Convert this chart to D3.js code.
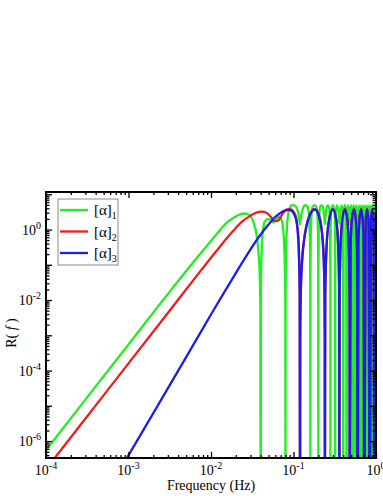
<!DOCTYPE html>
<html><head><meta charset="utf-8">
<script src="https://cdn.jsdelivr.net/npm/d3@7"></script>
<style>html,body{margin:0;padding:0;background:#fff;overflow:hidden}svg{display:block}text{font-family:"Liberation Serif","Times New Roman",Times,serif}</style>
</head><body><svg id="c" width="383" height="496"></svg>
<script>
const seriesLabels = ["1","2","3"];
const xTickExponents = [-4,-3,-2,-1,0];
const yTickExponents = [0,-2,-4,-6];

const green = [
[1e-4,5.5e-7],[3e-4,1.5e-5],[1e-3,5.5e-4],[3e-3,0.0148],[6e-3,0.112],[0.0085,0.3],[0.011,0.62],[0.015,1.45],[0.019,2.2],[0.0225,2.7],[0.0255,2.85],[0.029,2.6],[0.0326,1.65],[0.0355,0.75],[0.0375,0.25],[0.039,0.05],[0.0397,0.004],[0.04,1e-9],
[0.0403,0.02],[0.041,0.2],[0.0425,0.9],[0.045,1.7],[0.049,2.0],[0.053,1.85],[0.057,1.6],[0.062,1.9],[0.067,2.3],[0.072,1.8],[0.076,0.7],[0.0785,0.1],[0.0797,0.008],[0.08,1e-9],
[0.0803,0.02],[0.081,0.2],[0.083,1.0],[0.086,2.6],[0.09,4.0],[0.096,4.9],[0.103,4.8],[0.11,4.0],[0.115,2.8],[0.118,1.8],[0.12,1.4],[0.122,1.8],[0.125,2.8],[0.13,4.0],[0.137,4.8],[0.144,4.8],[0.15,4.0],[0.154,2.6],[0.157,1.0],[0.159,0.2],[0.1597,0.02],[0.16,1e-9],
[0.1605,0.05],[0.162,0.8],[0.165,2.5],[0.17,4.3],[0.18,4.9],[0.19,4.3],[0.195,2.5],[0.198,0.8],[0.1995,0.05],[0.2,1e-9],
[0.2005,0.05],[0.202,0.8],[0.206,2.8],[0.212,4.5],[0.22,4.8],[0.23,3.8],[0.237,2.0],[0.24,1.4],[0.243,2.0],[0.25,3.8],[0.26,4.8],[0.268,4.5],[0.274,2.8],[0.278,0.8],[0.2795,0.05],[0.28,1e-9],
[0.281,0.3],[0.285,3.0],[0.3,4.9],[0.315,3.0],[0.319,0.3],[0.32,1e-9],
[0.321,0.3],[0.326,3.0],[0.335,4.8],[0.35,3.5],[0.36,1.4],[0.37,3.5],[0.385,4.8],[0.394,3.0],[0.399,0.3],[0.4,1e-9],
[0.405,3.0],[0.42,4.9],[0.435,3.0],[0.44,1e-9],
[0.447,3.0],[0.458,4.8],[0.47,3.5],[0.48,1.4],[0.49,3.5],[0.502,4.8],[0.513,3.0],[0.52,1e-9],
[0.527,3.0],[0.54,4.9],[0.553,3.0],[0.56,1e-9],
[0.57,3.0],[0.58,4.8],[0.6,1.4],[0.62,4.8],[0.63,3.0],[0.64,1e-9],
[0.66,4.9],[0.68,1e-9],
[0.7,4.8],[0.72,1.4],[0.74,4.8],[0.76,1e-9],
[0.78,4.9],[0.8,1e-9],
[0.82,4.8],[0.84,1.4],[0.86,4.8],[0.88,1e-9],
[0.9,4.9],[0.92,1e-9],
[0.94,4.8],[0.96,1.4],[0.98,4.8],[1.0,3.5]
];

const red = [
[1e-4,1.6e-7],[3e-4,4.3e-6],[1e-3,1.6e-4],[3e-3,4.3e-3],[7.4e-3,0.065],[0.0117,0.25],[0.0186,0.92],[0.024,1.7],[0.0296,2.4],[0.035,2.95],[0.041,3.2],[0.047,3.0],[0.053,2.3],[0.059,1.75],[0.065,1.75],[0.07,2.3],[0.076,3.1],[0.083,3.7],[0.09,3.78],[0.097,3.5],[0.103,2.9],[0.108,2.1],[0.112,1.15],[0.115,0.55],[0.117,0.14],[0.119,0.015],[0.12,1e-9],
[0.1206,0.0009],[0.1224,0.015],[0.1272,0.135],[0.1344,0.52],[0.144,1.33],[0.156,2.5],[0.168,3.48],[0.18,3.85],[0.192,3.48],[0.204,2.5],[0.216,1.33],[0.2256,0.52],[0.2328,0.135],[0.2376,0.015],[0.2394,0.0009],[0.24,1e-9],
[0.2424,0.015],[0.252,0.36],[0.27,1.92],[0.3,3.85],[0.33,1.92],[0.348,0.36],[0.3576,0.015],[0.36,1e-9],
[0.3624,0.015],[0.372,0.36],[0.39,1.92],[0.42,3.85],[0.45,1.92],[0.468,0.36],[0.4776,0.015],[0.48,1e-9],
[0.492,0.36],[0.51,1.92],[0.54,3.85],[0.57,1.92],[0.588,0.36],[0.6,1e-9],
[0.612,0.36],[0.63,1.92],[0.66,3.85],[0.69,1.92],[0.708,0.36],[0.72,1e-9],
[0.75,1.92],[0.78,3.85],[0.81,1.92],[0.84,1e-9],
[0.87,1.92],[0.9,3.85],[0.93,1.92],[0.96,1e-9],
[0.99,1.92],[1.0,2.9]
];

const blue = [
[9e-4,2.6e-7],[2e-3,6.2e-6],[5e-3,2.4e-4],[0.01,0.0039],[0.015,0.019],[0.02,0.058],[0.03,0.27],[0.04,0.72],[0.05,1.4],[0.06,2.25],[0.07,3.0],[0.08,3.5],[0.088,3.6],[0.095,3.4],[0.1,2.9],[0.105,2.3],[0.11,1.4],[0.114,0.55],[0.117,0.13],[0.119,0.014],[0.12,1e-9],
[0.1206,0.0009],[0.1224,0.0146],[0.1272,0.13],[0.1344,0.5],[0.144,1.28],[0.156,2.4],[0.168,3.35],[0.18,3.7],[0.192,3.35],[0.204,2.4],[0.216,1.28],[0.2256,0.5],[0.2328,0.13],[0.2376,0.0146],[0.2394,0.0009],[0.24,1e-9],
[0.2424,0.0146],[0.252,0.35],[0.27,1.85],[0.3,3.7],[0.33,1.85],[0.348,0.35],[0.3576,0.0146],[0.36,1e-9],
[0.3624,0.0146],[0.372,0.35],[0.39,1.85],[0.42,3.7],[0.45,1.85],[0.468,0.35],[0.4776,0.0146],[0.48,1e-9],
[0.492,0.35],[0.51,1.85],[0.54,3.7],[0.57,1.85],[0.588,0.35],[0.6,1e-9],
[0.612,0.35],[0.63,1.85],[0.66,3.7],[0.69,1.85],[0.708,0.35],[0.72,1e-9],
[0.75,1.85],[0.78,3.7],[0.81,1.85],[0.84,1e-9],
[0.87,1.85],[0.9,3.7],[0.93,1.85],[0.96,1e-9],
[0.99,1.85],[1.0,2.8]
];

const seriesData = [green, red, blue];
const colors = ["#22ee22", "#ee1c1c", "#1c1cee"];
const FONT = "'Liberation Serif','Times New Roman',Times,serif";

const L = 46, R = 376, T = 192, B = 458;
const x = d3.scaleLog().domain([1e-4, 1]).range([L, R]);
const y = d3.scaleLog().domain([Math.pow(10, -6.48), Math.pow(10, 1.064)]).range([B, T]);
const svg = d3.select("#c");
svg.append("rect").attr("width",383).attr("height",496).attr("fill","#fff");
svg.append("defs").append("clipPath").attr("id","clip")
  .append("rect").attr("x",L).attr("y",T).attr("width",R-L).attr("height",B-T);

// curves
const line = d3.line().x(d => x(d[0])).y(d => y(d[1])).curve(d3.curveMonotoneX);
const gPlot = svg.append("g").attr("clip-path","url(#clip)");
seriesData.forEach((s, i) => {
  gPlot.append("path").datum(s).attr("d", line).attr("fill","none")
    .attr("stroke", colors[i]).attr("stroke-width", 2.3).attr("stroke-linejoin","round");
});

// ticks
const xMajor = [], xMinor = [], yMajor = [], yMinor = [];
for (let e = -4; e <= 0; e++) xMajor.push(Math.pow(10, e));
for (let e = -4; e < 0; e++) for (let k = 2; k < 10; k++) xMinor.push(k * Math.pow(10, e));
const yd = y.domain();
for (let e = -7; e <= 1; e++) {
  const v = Math.pow(10, e);
  if (v >= yd[0] && v <= yd[1]) yMajor.push(v);
  for (let k = 2; k < 10; k++) { const m = k * v; if (m > yd[0] && m < yd[1]) yMinor.push(m); }
}
function axis(fn, scale, vals, size, tr) {
  svg.append("g").attr("transform", tr)
    .call(fn(scale).tickValues(vals).tickSize(size).tickFormat(""))
    .call(g => { g.select(".domain").remove(); g.selectAll("line").attr("stroke","#000").attr("stroke-width",1.3); });
}
axis(d3.axisBottom, x, xMajor, -6, `translate(0,${B})`);
axis(d3.axisBottom, x, xMinor, -3, `translate(0,${B})`);
axis(d3.axisTop, x, xMajor, -6, `translate(0,${T})`);
axis(d3.axisTop, x, xMinor, -3, `translate(0,${T})`);
axis(d3.axisLeft, y, yMajor, -6, `translate(${L},0)`);
axis(d3.axisLeft, y, yMinor, -3.5, `translate(${L},0)`);
axis(d3.axisRight, y, yMajor, -6, `translate(${R},0)`);
axis(d3.axisRight, y, yMinor, -3.5, `translate(${R},0)`);

// frame
svg.append("rect").attr("x",L).attr("y",T).attr("width",R-L).attr("height",B-T)
  .attr("fill","none").attr("stroke","#000").attr("stroke-width",2);

// x tick labels
xTickExponents.forEach(e => {
  const t = svg.append("text").attr("x", x(Math.pow(10, e))).attr("y", 475)
    .attr("text-anchor","middle").attr("font-family", FONT).attr("font-size", 14).attr("fill","#000");
  t.append("tspan").text("10");
  t.append("tspan").attr("dy", -6).attr("font-size", 10).text(String(e));
});
// y tick labels
yTickExponents.forEach(e => {
  const t = svg.append("text").attr("x", 41).attr("y", y(Math.pow(10, e)) + 5)
    .attr("text-anchor","end").attr("font-family", FONT).attr("font-size", 14).attr("fill","#000");
  t.append("tspan").text("10");
  t.append("tspan").attr("dy", -6).attr("font-size", 10).text(String(e));
});
// axis titles
svg.append("text").attr("x", (L + R) / 2).attr("y", 490).attr("text-anchor","middle")
  .attr("font-family", FONT).attr("font-size", 14).attr("fill","#000").text("Frequency (Hz)");
const yl = svg.append("text").attr("transform","translate(16,333) rotate(-90)")
  .attr("text-anchor","middle").attr("font-family", FONT).attr("font-size", 14).attr("fill","#000");
yl.append("tspan").text("R( ");
yl.append("tspan").attr("font-style","italic").text("f");
yl.append("tspan").text(" )");

// legend
const lg = svg.append("g");
lg.append("rect").attr("x",58).attr("y",199).attr("width",60).attr("height",66)
  .attr("fill","#fff").attr("stroke","#8a8a8a").attr("stroke-width",1);
seriesLabels.forEach((lab, i) => {
  const yy = 210 + i * 21.5;
  lg.append("line").attr("x1",60).attr("x2",88).attr("y1",yy).attr("y2",yy)
    .attr("stroke", colors[i]).attr("stroke-width", 2.3);
  const t = lg.append("text").attr("x", 94).attr("y", yy + 5).attr("font-family", FONT)
    .attr("font-size", 15).attr("fill","#000");
  t.append("tspan").text("[\u03B1]");
  t.append("tspan").attr("dy", 4).attr("font-size", 10).text(lab);
});
</script>
</body></html>
